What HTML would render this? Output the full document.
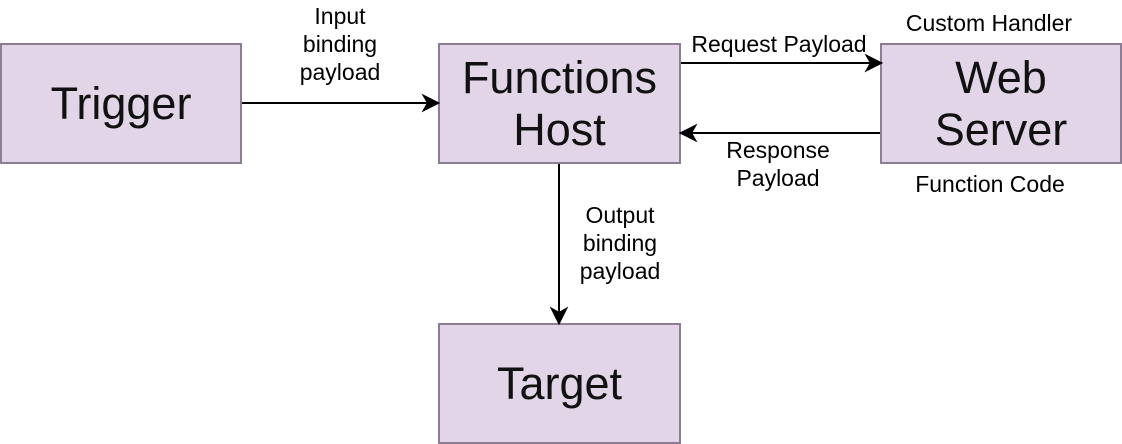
<!DOCTYPE html>
<html><head><style>
body{margin:0;width:1122px;height:444px;background:#fff;position:relative;font-family:"Liberation Sans",Arial,Helvetica,sans-serif;overflow:hidden}
.b{position:absolute;background:#e1d5e7;border:2px solid #8c7c94;box-sizing:border-box;display:flex;align-items:center;justify-content:center;text-align:center;font-size:45px;line-height:52px;color:#111}
.t{position:absolute;font-size:23px;line-height:28px;text-align:center;color:#000;white-space:nowrap}
</style></head><body>
<div class="b" style="left:0;top:43px;width:242px;height:121px">Trigger</div>
<div class="b" style="left:438px;top:43px;width:243px;height:121px">Functions<br>Host</div>
<div class="b" style="left:880px;top:43px;width:242px;height:121px">Web<br>Server</div>
<div class="b" style="left:438px;top:323px;width:243px;height:121px">Target</div>
<svg width="1122" height="444" style="position:absolute;left:0;top:0">
<g stroke="#000" stroke-width="2" fill="#000">
<line x1="242" y1="103" x2="428" y2="103"/><polygon points="438,103 424,96 428,103 424,110"/>
<line x1="681" y1="63" x2="871" y2="63"/><polygon points="881,63 867,56 871,63 867,70"/>
<line x1="880" y1="133" x2="691" y2="133"/><polygon points="681,133 695,126 691,133 695,140"/>
<line x1="559" y1="164" x2="559" y2="313"/><polygon points="559,323 552,309 559,313 566,309"/>
</g></svg>
<div class="t" style="left:290px;top:2px;width:100px">Input<br>binding<br>payload</div>
<div class="t" style="left:679px;top:30px;width:200px">Request Payload</div>
<div class="t" style="left:880px;top:9px;width:218px">Custom Handler</div>
<div class="t" style="left:700px;top:136px;width:156px">Response<br>Payload</div>
<div class="t" style="left:900px;top:170px;width:180px">Function Code</div>
<div class="t" style="left:570px;top:201px;width:100px">Output<br>binding<br>payload</div>
</body></html>
